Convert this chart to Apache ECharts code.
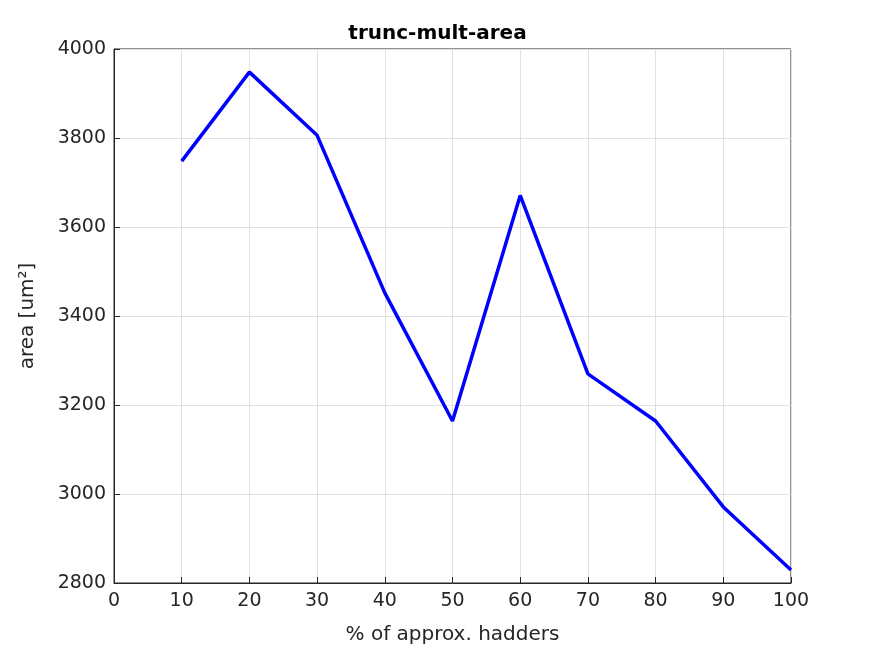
<!DOCTYPE html>
<html>
<head>
<meta charset="utf-8">
<script src="https://cdn.jsdelivr.net/npm/echarts@6/dist/echarts.min.js"></script>
<style>html,body{margin:0;padding:0;background:#fff}#chart{width:875px;height:656px}</style>
</head>
<body>
<div id="chart"></div>
<script>
var xValues = [10, 20, 30, 40, 50, 60, 70, 80, 90, 100];
var areaValues = [3748, 3948, 3806, 3452, 3164, 3671, 3270, 3164, 2971, 2829];

var points = [];
for (var i = 0; i < xValues.length; i++) {
  points.push([xValues[i], areaValues[i]]);
}

var axisText = {color: '#262626', fontFamily: 'DejaVu Sans', fontSize: 19};
var nameText = {color: '#262626', fontFamily: 'DejaVu Sans', fontSize: 20};

var myChart = echarts.init(document.getElementById('chart'));
var option = {
  animation: false,
  title: {
    text: 'trunc-mult-area',
    left: 'center',
    top: 19,
    textStyle: {fontFamily: 'DejaVu Sans', fontSize: 20, fontWeight: 'bold', color: '#000'}
  },
  grid: {left: 114, right: 84, top: 49, bottom: 73, show: true, borderColor: '#262626', borderWidth: 1},
  xAxis: {
    type: 'value', min: 0, max: 100, interval: 10,
    name: '% of approx. hadders', nameLocation: 'middle', nameGap: 42,
    nameTextStyle: nameText,
    axisLabel: Object.assign({margin: 9}, axisText),
    axisLine: {lineStyle: {color: '#262626'}},
    axisTick: {inside: true, length: 6, lineStyle: {color: '#262626'}},
    splitLine: {show: true, lineStyle: {color: '#e0e0e0'}}
  },
  yAxis: {
    type: 'value', min: 2800, max: 4000, interval: 200,
    name: 'area [um²]', nameLocation: 'middle', nameGap: 76,
    nameTextStyle: nameText,
    axisLabel: Object.assign({formatter: function (v) { return String(v); }}, axisText),
    axisLine: {show: true, lineStyle: {color: '#262626'}},
    axisTick: {show: true, inside: true, length: 6, lineStyle: {color: '#262626'}},
    splitLine: {show: true, lineStyle: {color: '#e0e0e0'}}
  },
  series: [{
    type: 'line',
    data: points,
    showSymbol: false,
    lineStyle: {color: '#0000ff', width: 3.5}
  }]
};
myChart.setOption(option);
</script>
</body>
</html>
